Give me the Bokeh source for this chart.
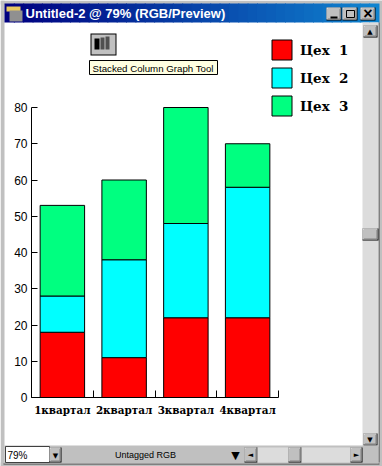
from bokeh.plotting import figure
from bokeh.models import BoxAnnotation, Label, Legend, LegendItem, FixedTicker, ColumnDataSource, LinearAxis
from bokeh.embed import file_html
from bokeh.resources import INLINE

quarters = ["1квартал", "2квартал", "3квартал", "4квартал"]
workshop_1 = [18, 11, 22, 22]
workshop_2 = [10, 27, 26, 36]
workshop_3 = [25, 22, 32, 12]
series_names = ["Цех\u00a0\u00a01", "Цех\u00a0\u00a02", "Цех\u00a0\u00a03"]
y_ticks = [0, 10, 20, 30, 40, 50, 60, 70, 80]
colors = ["#ff0000", "#00ffff", "#00ff80"]

W, H = 382, 466
# pixel placement of the plot area inside the page
AX_L, AX_R, AX_T, AX_B = 31.0, 278.0, 107.0, 397.0
n = len(quarters)
ymax = y_ticks[-1]
px_x = (AX_R - AX_L) / n
px_y = (AX_B - AX_T) / ymax

centers = [i + 0.5 for i in range(n)]
src = ColumnDataSource(dict(x=centers, a=workshop_1, b=workshop_2, c=workshop_3))

p = figure(width=W, height=H, output_backend="svg", toolbar_location=None,
           x_range=(-AX_L / px_x, (W - AX_L) / px_x),
           y_range=(-(H - AX_B) / px_y, ymax + AX_T / px_y),
           x_axis_type=None, y_axis_type=None,
           min_border=0,
           background_fill_color="white", border_fill_color="white", outline_line_color=None)
p.grid.visible = False

rs = p.vbar_stack(["a", "b", "c"], x="x", width=0.72, source=src, color=colors,
                  line_color="black", line_width=1)

ya = LinearAxis(fixed_location=0, bounds=(0, ymax), ticker=FixedTicker(ticks=y_ticks))
ya.major_tick_in = 6
ya.major_tick_out = 0
ya.minor_tick_in = 0
ya.minor_tick_out = 0
ya.major_label_standoff = 4
ya.major_label_text_font = "Liberation Sans"
ya.major_label_text_font_size = "12px"
ya.major_label_text_color = "black"
ya.axis_line_color = "black"
ya.major_tick_line_color = "black"
p.add_layout(ya, "left")

xa = LinearAxis(fixed_location=0, bounds=(0, n),
                ticker=FixedTicker(ticks=centers, minor_ticks=list(range(n + 1))))
xa.major_label_overrides = {c: q for c, q in zip(centers, quarters)}
xa.major_tick_in = 0
xa.major_tick_out = 0
xa.minor_tick_in = 7
xa.minor_tick_out = 0
xa.major_label_standoff = 6
xa.major_label_text_font = "DejaVu Serif"
xa.major_label_text_font_style = "bold"
xa.major_label_text_font_size = "10.4px"
xa.major_label_text_color = "black"
xa.axis_line_color = "black"
xa.minor_tick_line_color = "black"
p.add_layout(xa, "below")

legend = Legend(items=[LegendItem(label=nm, renderers=[r]) for nm, r in zip(series_names, rs)],
                location=(269, H - 118), orientation="vertical",
                glyph_width=25, glyph_height=25, spacing=3, label_standoff=6,
                padding=0, margin=0, border_line_color=None, background_fill_alpha=0,
                label_text_font="DejaVu Serif", label_text_font_style="bold",
                label_text_font_size="13.5px", label_text_color="black")
p.add_layout(legend, "center")


def box(x0, y0, x1, y1, fill, line=None):
    p.add_layout(BoxAnnotation(left=x0, right=x1, top=H - y0, bottom=H - y1,
                               left_units="screen", right_units="screen",
                               top_units="screen", bottom_units="screen",
                               fill_color=fill, fill_alpha=1,
                               line_color=line, line_alpha=1 if line else 0, line_width=1,
                               editable=False))


def button(x0, y0, x1, y1):
    box(x0, y0, x1, y1, "black")
    box(x0, y0, x1 - 1, y1 - 1, "#ffffff")
    box(x0 + 1, y0 + 1, x1 - 1, y1 - 1, "#808080")
    box(x0 + 1, y0 + 1, x1 - 2, y1 - 2, "#c0c0c0")


def text(x, y, s, size="11px", font="Liberation Sans", style="normal", color="black", align="left"):
    p.add_layout(Label(x=x, y=H - y, x_units="screen", y_units="screen", text=s,
                       text_font=font, text_font_size=size, text_font_style=style,
                       text_color=color, text_align=align, text_baseline="middle"))


# window frame
box(0, 0, W, 4, "#c0c0c0")
box(0, 0, 4, H, "#c0c0c0")
box(378, 0, W, H, "#c0c0c0")
box(378, 22, 379, 463, "#404040")
box(0, 462, W, H, "#c0c0c0")
box(3, 463, 379, 464, "#404040")

# window title bar (gradient)
N = 40
for i in range(N):
    t = i / (N - 1)
    c = "#%02x%02x%02x" % (int(t * 16), int(t * 132), int(128 + t * 80))
    box(4 + i * 374 / N, 3, 4 + (i + 1) * 374 / N + 1, 22, c)
box(6, 6, 20, 11, "#e8c860")
box(9, 10, 22, 21, "#909090")
text(25, 13, "Untitled-2 @ 79% (RGB/Preview)", "13px", style="bold", color="white")
for x0, x1 in ((326, 341), (342, 357), (360, 375)):
    button(x0, 7, x1, 20)
box(330, 16, 337, 18, "black")
box(346, 10, 354, 17, "#c0c0c0", "black")
text(367.5, 13, "×", "16px", style="bold", align="center")

# right scrollbar
box(362, 22, 378, 446, "#dcdcdc")
button(363, 25, 377, 37)
text(369.5, 31, "▲", "7px", font="DejaVu Sans", align="center")
button(363, 433, 377, 445)
text(369.5, 439, "▼", "7px", font="DejaVu Sans", align="center")
button(362, 228, 378, 240)

# status bar
box(4, 445, 378, 463, "#c0c0c0")
box(5, 446, 49, 462, "white", "#404040")
text(7, 455, "79%", "10px")
button(49, 447, 61, 462)
text(55, 455, "▼", "7px", font="DejaVu Sans", align="center")
box(64, 447, 243, 462, "#c0c0c0")
text(145, 454, "Untagged RGB", "9px", align="center")
text(235, 455, "▼", "11px", font="DejaVu Sans", align="center")
button(244, 447, 257, 462)
text(250, 454, "◄", "7px", font="DejaVu Sans", align="center")
box(257, 447, 288, 462, "#dcdcdc")
button(288, 447, 301, 462)
box(301, 447, 350, 462, "#dcdcdc")
button(350, 447, 362, 462)
text(356, 454, "►", "7px", font="DejaVu Sans", align="center")

# tool button and tooltip
box(90, 33, 116, 55, "black")
box(91, 34, 115, 54, "#c0c0c0")
box(94, 38, 99, 49, "black")
box(100, 37, 104, 49, "#505050")
box(105, 36, 109, 49, "#505050")
box(89, 60, 217, 74, "#ffffe1", "black")
text(92, 67.5, "Stacked Column Graph Tool", "9.7px")

open("out.html", "w").write(file_html(p, INLINE))
